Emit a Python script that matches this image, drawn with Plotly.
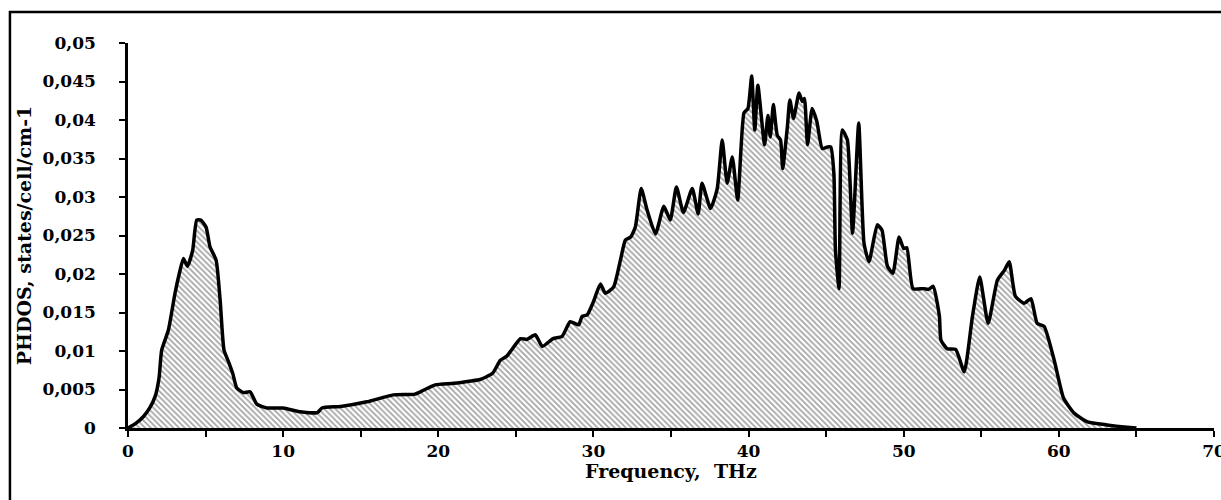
import plotly.graph_objects as go

# Phonon density of states (PHDOS) vs frequency
freq_thz = [
    0.0, 0.5, 1.0, 1.4, 1.75, 2.0, 2.17, 2.6, 3.03, 3.3, 3.57, 3.83, 4.17, 4.43,
    4.7, 5.03, 5.29, 5.68, 5.94, 6.19, 6.5, 6.75, 7.01, 7.44, 7.87, 8.3, 8.95,
    10.0, 11.1, 12.2, 12.5, 13.7, 15.4, 17.1, 18.5, 19.05, 19.8, 21.0, 22.1,
    22.7, 23.5, 24.0, 24.4, 25.3, 25.7, 26.26, 26.7, 27.4, 27.98, 28.5, 29.05,
    29.27, 29.6, 30.0, 30.45, 30.77, 31.3, 31.74, 32.06, 32.4, 32.7, 33.08,
    33.46, 34.0, 34.54, 34.95, 35.35, 35.8, 36.37, 36.75, 37.0, 37.55, 37.98,
    38.3, 38.62, 38.95, 39.3, 39.7, 39.96, 40.2, 40.4, 40.6, 41.03, 41.25, 41.4,
    41.6, 41.85, 42.06, 42.2, 42.5, 42.66, 42.9, 43.25, 43.46, 43.6, 43.8, 44.1,
    44.4, 44.75, 45.08, 45.3, 45.5, 45.6, 45.83, 46.04, 46.37, 46.7, 47.1,
    47.44, 47.76, 48.3, 48.6, 48.95, 49.3, 49.7, 50.0, 50.2, 50.6, 51.3, 51.6,
    51.9, 52.3, 52.4, 52.8, 53.35, 53.9, 54.43, 54.9, 55.44, 56.04, 56.5, 56.8,
    57.2, 57.76, 58.2, 58.6, 59.05, 59.7, 60.3, 61.0, 61.85, 63.1, 64.4, 65.0,
]
phdos = [
    0.0, 0.0006, 0.0015, 0.0026, 0.0041, 0.0065, 0.0101, 0.0127, 0.0175, 0.0200,
    0.0220, 0.0210, 0.0231, 0.0270, 0.0270, 0.0261, 0.0235, 0.0218, 0.0166,
    0.0101, 0.0085, 0.0071, 0.0052, 0.0046, 0.0047, 0.0031, 0.0026, 0.0026,
    0.0021, 0.0020, 0.0026, 0.0028, 0.0034, 0.0043, 0.0044, 0.0049, 0.0056,
    0.0058, 0.0061, 0.0063, 0.0071, 0.0088, 0.0093, 0.0116, 0.0115, 0.0121,
    0.0106, 0.0116, 0.0119, 0.0138, 0.0134, 0.0145, 0.0147, 0.0164, 0.0187,
    0.0175, 0.0183, 0.0218, 0.0244, 0.0248, 0.0261, 0.0311, 0.0283, 0.0252,
    0.0288, 0.0270, 0.0313, 0.0280, 0.0311, 0.0278, 0.0318, 0.0285, 0.0311,
    0.0374, 0.0318, 0.0352, 0.0296, 0.0409, 0.0415, 0.0457, 0.0387, 0.0445,
    0.0368, 0.0406, 0.0378, 0.0420, 0.0380, 0.0374, 0.0337, 0.0391, 0.0426,
    0.0402, 0.0435, 0.0424, 0.0428, 0.0368, 0.0415, 0.0398, 0.0363, 0.0365,
    0.0365, 0.0330, 0.0231, 0.0181, 0.0387, 0.0374, 0.0253, 0.0396, 0.0240,
    0.0216, 0.0264, 0.0257, 0.0210, 0.0201, 0.0248, 0.0233, 0.0234, 0.0181,
    0.0181, 0.0180, 0.0184, 0.0145, 0.0114, 0.0103, 0.0102, 0.0073, 0.0145,
    0.0196, 0.0136, 0.0192, 0.0205, 0.0216, 0.0171, 0.0162, 0.0168, 0.0136,
    0.0132, 0.0088, 0.0039, 0.0019, 0.0008, 0.0004, 0.0001, 0.0,
]

x_ticks = list(range(0, 75, 5))
x_labels = [str(v) if v % 10 == 0 else "" for v in x_ticks]
y_ticks = [0, 0.005, 0.01, 0.015, 0.02, 0.025, 0.03, 0.035, 0.04, 0.045, 0.05]
y_labels = ["0", "0,005", "0,01", "0,015", "0,02", "0,025", "0,03", "0,035",
            "0,04", "0,045", "0,05"]

FONT = "DejaVu Serif"

fig = go.Figure()
fig.add_trace(go.Scatter(
    x=freq_thz, y=phdos, mode="lines",
    line=dict(color="black", width=3.5, shape="spline", smoothing=0.5),
    fill="tozeroy",
    fillcolor="white",
    fillpattern=dict(shape="\\", size=4, solidity=0.45,
                     fgcolor="#4a4a4a", bgcolor="white"),
    hoverinfo="skip", showlegend=False,
))

fig.update_layout(
    width=1221, height=500,
    margin=dict(l=128, r=7, t=43, b=72),
    paper_bgcolor="white", plot_bgcolor="white",
    font=dict(family=FONT, size=17, color="black", weight="bold"),
    xaxis=dict(
        range=[0, 70], tickvals=x_ticks, ticktext=x_labels,
        showgrid=False, zeroline=False, automargin=False,
        showline=True, linecolor="black", linewidth=2.5,
        ticks="outside", ticklen=6, tickwidth=2, tickcolor="black",
        ticklabeloverflow="allow", ticklabelstandoff=0,
        tickfont=dict(family=FONT, size=17, weight="bold"),
    ),
    yaxis=dict(
        range=[0, 0.05], tickvals=y_ticks, ticktext=y_labels,
        showgrid=False, zeroline=False, automargin=False,
        showline=True, linecolor="black", linewidth=2.5,
        ticks="outside", ticklen=6, tickwidth=2, tickcolor="black",
        ticklabelstandoff=20,
        tickfont=dict(family=FONT, size=17, weight="bold"),
        title=dict(text="PHDOS, states/cell/cm-1", standoff=6,
                   font=dict(family=FONT, size=19, weight="bold")),
    ),
    annotations=[dict(
        text="Frequency,  THz", xref="paper", yref="paper",
        x=0.5, y=-0.112, xanchor="center", yanchor="middle",
        showarrow=False, font=dict(family=FONT, size=19, weight="bold"),
    )],
    shapes=[dict(
        type="rect", xref="paper", yref="paper",
        x0=-0.1087, x1=1.2, y0=-0.4, y1=1.0805,
        line=dict(color="black", width=2.5), fillcolor="rgba(0,0,0,0)",
        layer="below",
    )],
)

fig.write_html("out.html")
